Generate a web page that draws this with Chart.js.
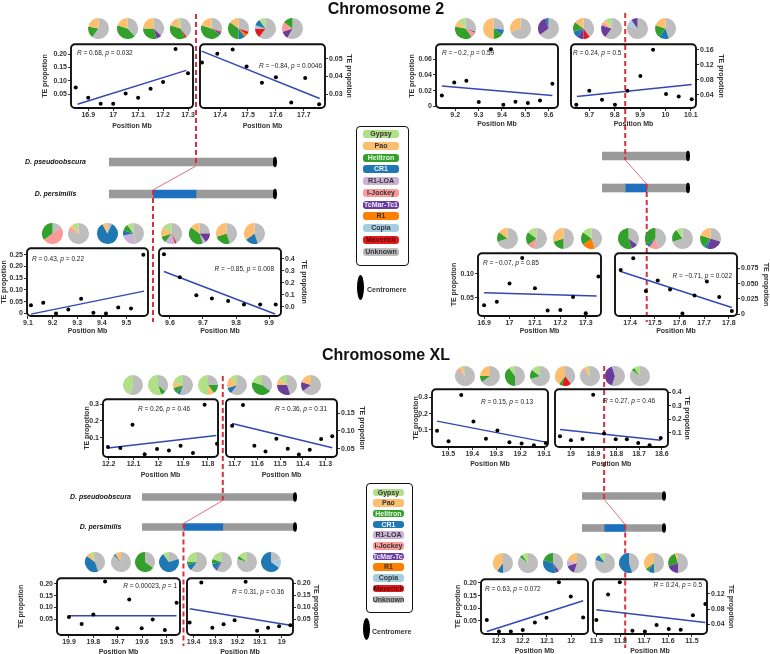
<!DOCTYPE html>
<html>
<head>
<meta charset="utf-8">
<script src="https://cdn.jsdelivr.net/npm/chart.js@4.4.1/dist/chart.umd.min.js"></script>
<style>
  body { margin: 0; width: 770px; height: 654px; position: relative; overflow: hidden; background: #fff;
         font-family: "Liberation Sans", Arial, sans-serif; }
  canvas { position: absolute; }
  .txt { position: absolute; white-space: nowrap; color: #111; }
  .title { font-size: 16px; font-weight: bold; transform: translate(-50%, -50%); z-index: 5; }
  .lgbox { position: absolute; border: 1.8px solid #111; border-radius: 4px; box-sizing: border-box; z-index: 5; }
  .pill { position: absolute; border-radius: 3px; font-size: 7px; font-weight: bold; text-align: center; z-index: 6;
          white-space: nowrap; overflow: visible; }
  .cen { position: absolute; background: #000; border-radius: 50%; z-index: 6; }
</style>
</head>
<body>
<script>
// ---- TE classes ----
const teTypes = ['Gypsy', 'Pao', 'Helitron', 'CR1', 'R1-LOA', 'I-Jockey', 'TcMar-Tc1', 'R1', 'Copia', 'Maverick', 'Unknown'];
const teColors = ['#b2df8a', '#fdbf6f', '#33a02c', '#1f78b4', '#cab2d6', '#fb9a99', '#6a3d9a', '#ff7f00', '#a6cee3', '#e31a1c', '#bdbdbd'];
const teText = ['#333', '#333', '#e8f5e0', '#eef4ff', '#333', '#333', '#f0e8ff', '#333', '#333', '#5a0a0a', '#333'];

// ---- Chromosome 2 ----
const c2a_pos = [16.85, 16.9, 16.95, 17.0, 17.05, 17.1, 17.15, 17.2, 17.25, 17.3];
const c2a_te = [0.075, 0.036, 0.014, 0.014, 0.052, 0.036, 0.070, 0.095, 0.219, 0.128];
const c2a_fitX = [16.857, 17.293], c2a_fitY = [0.012, 0.139];
const c2a_xt = ['16.9', '17', '17.1', '17.2', '17.3'], c2a_yt = ['0.05', '0.10', '0.15', '0.20'];
const c2a_stat = ['0.68', '0.032'];

const c2b_pos = [17.335, 17.39, 17.445, 17.495, 17.55, 17.6, 17.655, 17.705, 17.755];
const c2b_te = [0.0478, 0.0527, 0.0551, 0.0456, 0.0365, 0.0396, 0.0254, 0.0391, 0.0244];
const c2b_fitX = [17.334, 17.757], c2b_fitY = [0.0542, 0.0276];
const c2b_xt = ['17.4', '17.5', '17.6', '17.7'], c2b_yt = ['0.03', '0.04', '0.05'];
const c2b_stat = ['\u22120.84', '0.0046'];

const c2c_pos = [9.112, 9.162, 9.214, 9.264, 9.316, 9.366, 9.417, 9.467, 9.519, 9.569];
const c2c_te = [0.035, 0.046, 0.0, 0.017, 0.063, 0.003, 0.0, 0.025, 0.021, 0.250];
const c2c_fitX = [9.112, 9.572], c2c_fitY = [-0.003, 0.095];
const c2c_xt = ['9.1', '9.2', '9.3', '9.4', '9.5'], c2c_yt = ['0', '0.05', '0.10', '0.15', '0.20', '0.25'];
const c2c_stat = ['0.43', '0.22'];

const c2d_pos = [9.582, 9.63, 9.68, 9.727, 9.776, 9.824, 9.873, 9.92];
const c2d_te = [0.436, 0.245, 0.096, 0.069, 0.049, 0.020, 0.020, 0.020];
const c2d_fitX = [9.582, 9.918], c2d_fitY = [0.294, -0.060];
const c2d_xt = ['9.6', '9.7', '9.8', '9.9'], c2d_yt = ['0.0', '0.1', '0.2', '0.3', '0.4'];
const c2d_stat = ['\u22120.85', '0.008'];

const c2e_pos = [9.143, 9.196, 9.248, 9.301, 9.353, 9.406, 9.458, 9.511, 9.563, 9.616];
const c2e_te = [0.0138, 0.0302, 0.0324, 0.0055, 0.0726, 0.0021, 0.0059, 0.0042, 0.0075, 0.0286];
const c2e_fitX = [9.143, 9.616], c2e_fitY = [0.026, 0.0138];
const c2e_xt = ['9.2', '9.3', '9.4', '9.5', '9.6'], c2e_yt = ['0', '0.02', '0.04', '0.06'];
const c2e_stat = ['\u22120.2', '0.59'];

const c2f_pos = [9.649, 9.7, 9.75, 9.801, 9.85, 9.901, 9.951, 10.002, 10.052, 10.103];
const c2f_te = [0.0139, 0.0512, 0.027, 0.0139, 0.0512, 0.0904, 0.160, 0.0426, 0.0356, 0.0288];
const c2f_fitX = [9.651, 10.103], c2f_fitY = [0.0356, 0.068];
const c2f_xt = ['9.7', '9.8', '9.9', '10', '10.1'], c2f_yt = ['0.04', '0.08', '0.12', '0.16'];
const c2f_stat = ['0.24', '0.5'];

const c2g_pos = [16.9, 16.95, 17.0, 17.05, 17.1, 17.15, 17.2, 17.25, 17.3, 17.35];
const c2g_te = [0.035, 0.042, 0.080, 0.133, 0.070, 0.024, 0.025, 0.052, 0.018, 0.0945];
const c2g_fitX = [16.9, 17.343], c2g_fitY = [0.061, 0.054];
const c2g_xt = ['16.9', '17', '17.1', '17.2', '17.3'], c2g_yt = ['0.05', '0.10'];
const c2g_stat = ['\u22120.07', '0.85'];

const c2h_pos = [17.362, 17.413, 17.464, 17.512, 17.562, 17.612, 17.661, 17.711, 17.761, 17.812];
const c2h_te = [0.0724, 0.0919, 0.0378, 0.0551, 0.0405, 0.0011, 0.0308, 0.0535, 0.028, 0.0053];
const c2h_fitX = [17.362, 17.812], c2h_fitY = [0.070, 0.011];
const c2h_xt = ['17.4', '17.5', '17.6', '17.7', '17.8'], c2h_yt = ['0', '0.025', '0.050', '0.075'];
const c2h_stat = ['\u22120.71', '0.022'];

// ---- Chromosome XL ----
const xli_pos = [12.203, 12.153, 12.104, 12.055, 12.005, 11.957, 11.91, 11.86, 11.813, 11.763];
const xli_te = [0.045, 0.039, 0.177, 0.002, 0.033, 0.024, 0.053, 0.010, 0.296, 0.065];
const xli_fitX = [12.203, 11.766], xli_fitY = [0.039, 0.114];
const xli_xt = ['12.2', '12.1', '12', '11.9', '11.8'], xli_yt = ['0.1', '0.2', '0.3'];
const xli_stat = ['0.26', '0.46'];

const xlj_pos = [11.711, 11.663, 11.613, 11.564, 11.516, 11.466, 11.417, 11.369, 11.319, 11.27];
const xlj_te = [0.1147, 0.173, 0.058, 0.042, 0.078, 0.050, 0.034, 0.047, 0.077, 0.0848];
const xlj_fitX = [11.711, 11.27], xlj_fitY = [0.121, 0.0528];
const xlj_xt = ['11.7', '11.6', '11.5', '11.4', '11.3'], xlj_yt = ['0.05', '0.10', '0.15'];
const xlj_stat = ['0.36', '0.31'];

const xlk_pos = [19.547, 19.499, 19.446, 19.395, 19.343, 19.295, 19.245, 19.194, 19.143, 19.093];
const xlk_te = [0.095, 0.030, 0.315, 0.151, 0.046, 0.097, 0.024, 0.016, 0.005, 0.019];
const xlk_fitX = [19.547, 19.093], xlk_fitY = [0.154, 0.025];
const xlk_xt = ['19.5', '19.4', '19.3', '19.2', '19.1'], xlk_yt = ['0.1', '0.2', '0.3'];
const xlk_stat = ['0.15', '0.13'];

const xll_pos = [19.048, 19.0, 18.949, 18.902, 18.854, 18.803, 18.754, 18.704, 18.654, 18.605];
const xll_te = [0.073, 0.043, 0.053, 0.384, 0.093, 0.050, 0.050, 0.023, 0.006, 0.060];
const xll_fitX = [19.048, 18.605], xll_fitY = [0.124, 0.043];
const xll_xt = ['19', '18.9', '18.8', '18.7', '18.6'], xll_yt = ['0.1', '0.2', '0.3', '0.4'];
const xll_stat = ['0.27', '0.46'];

const xlm_pos = [19.9, 19.848, 19.8, 19.752, 19.702, 19.653, 19.602, 19.557, 19.507, 19.459];
const xlm_te = [0.060, 0.030, 0.071, 0.210, 0.012, 0.134, 0.012, 0.049, 0.005, 0.120];
const xlm_fitX = [19.9, 19.459], xlm_fitY = [0.065, 0.065];
const xlm_xt = ['19.9', '19.8', '19.7', '19.6', '19.5'], xlm_yt = ['0.05', '0.10', '0.15', '0.20'];
const xlm_stat = ['0.00023', '1'];

const xln_pos = [19.418, 19.365, 19.315, 19.264, 19.214, 19.164, 19.112, 19.062, 19.012, 18.961];
const xln_te = [0.036, 0.204, 0.014, 0.029, 0.046, 0.207, 0.002, 0.014, 0.021, 0.025];
const xln_fitX = [19.418, 18.961], xln_fitY = [0.094, 0.025];
const xln_xt = ['19.4', '19.3', '19.2', '19.1', '19'], xln_yt = ['0.05', '0.10', '0.15', '0.20'];
const xln_stat = ['0.31', '0.36'];

const xlo_pos = [12.348, 12.298, 12.249, 12.2, 12.15, 12.102, 12.051, 12.002, 11.951];
const xlo_te = [0.053, 0.008, 0.008, 0.014, 0.044, 0.062, 0.203, 0.146, 0.063];
const xlo_fitX = [12.348, 11.951], xlo_fitY = [0.008, 0.13];
const xlo_xt = ['12.3', '12.2', '12.1', '12'], xlo_yt = ['0.05', '0.10', '0.15', '0.20'];
const xlo_stat = ['0.63', '0.072'];

const xlp_pos = [11.9, 11.851, 11.802, 11.749, 11.697, 11.648, 11.597, 11.547, 11.496, 11.444];
const xlp_te = [0.051, 0.118, 0.150, 0.023, 0.021, 0.038, 0.028, 0.026, 0.064, 0.093];
const xlp_fitX = [11.9, 11.444], xlp_fitY = [0.078, 0.045];
const xlp_xt = ['11.9', '11.8', '11.7', '11.6', '11.5'], xlp_yt = ['0.04', '0.08', '0.12'];
const xlp_stat = ['0.24', '0.5'];

// ---- pie compositions (% per TE class, teTypes order) ----
const pies2TopL = [
  [0,22,18,0,0,0,0,0,0,0,60], [0,20,42,0,0,0,0,0,0,0,38], [0,25,30,0,0,0,8,0,0,0,37], [5,15,37,0,0,0,0,0,0,3,40],
  [0,20,45,0,0,0,3,0,0,2,30], [0,15,35,10,0,0,0,5,0,5,30], [10,0,0,10,0,0,0,0,5,15,60], [0,0,15,0,0,15,12,0,0,0,58]];
const pies2TopR = [
  [12,10,38,0,0,8,2,0,0,0,30], [0,50,15,8,0,0,0,0,0,0,27], [0,30,0,0,0,0,0,0,0,0,70], [0,0,0,5,0,0,30,0,0,0,65],
  [0,15,15,10,0,0,10,0,0,10,40], [10,5,0,0,0,5,20,0,0,0,60], [0,0,0,0,0,0,10,0,10,0,80], [0,20,20,15,0,0,0,0,0,0,45]];
const pies2BotL = [
  [0,0,35,0,0,50,0,0,0,0,15], [10,5,0,0,0,5,0,0,0,0,80], [0,8,0,85,0,0,0,0,0,0,7], [10,0,10,8,25,0,0,0,0,0,47],
  [15,15,10,0,15,0,0,0,0,3,42], [0,15,40,0,5,0,15,0,0,0,25], [0,30,25,0,0,0,0,0,0,0,45], [0,35,0,20,0,0,0,0,0,0,45]];
const pies2BotR = [
  [0,15,15,0,0,0,0,0,0,0,70], [15,0,20,0,0,12,0,0,0,0,53], [0,30,20,0,0,0,0,0,0,0,50], [15,0,20,0,0,0,0,20,0,0,45],
  [0,0,55,0,0,0,10,0,0,0,35], [0,0,35,5,0,15,0,0,0,0,45], [10,0,20,0,0,0,0,0,0,0,70], [0,20,20,5,0,0,25,0,0,0,30]];
const piesXLTopL = [
  [45,0,0,0,0,0,0,0,0,0,55], [55,0,8,0,0,0,0,0,0,0,37], [20,10,10,5,0,0,0,0,0,0,55], [50,10,15,0,0,0,0,0,0,0,25],
  [10,20,0,10,0,0,0,0,0,0,60], [20,0,45,0,0,0,0,0,0,0,35], [15,10,0,0,0,0,30,0,0,0,45], [0,20,0,0,0,0,15,0,0,0,65]];
const piesXLTopR = [
  [5,5,0,0,0,5,0,0,0,0,85], [0,25,10,0,0,0,0,0,0,0,65], [10,0,40,0,0,0,0,0,0,0,50], [15,0,15,0,0,0,0,0,0,0,70],
  [0,40,5,0,0,0,0,0,0,15,40], [5,5,0,0,0,5,0,0,0,0,85], [0,0,0,0,5,0,40,0,0,0,55], [10,0,5,0,0,0,0,0,0,0,85]];
const piesXLBotL = [
  [7,8,0,40,0,0,0,0,0,0,45], [0,10,0,3,0,0,0,0,0,0,87], [0,0,65,0,0,0,0,0,0,0,35], [10,0,0,70,0,0,0,0,0,0,20],
  [25,0,5,10,0,0,0,0,0,0,60], [20,0,8,10,0,0,3,0,0,0,59], [15,0,5,0,0,0,0,0,0,0,80], [0,0,0,65,0,0,0,0,15,0,20]];
const piesXLBotR = [
  [0,40,0,10,0,0,0,0,0,0,50], [10,0,5,0,0,0,0,0,0,0,85], [0,0,20,35,0,0,5,0,0,0,40], [0,20,0,0,10,0,15,0,0,0,55],
  [10,0,0,10,0,0,0,0,0,0,80], [0,0,0,55,0,0,0,0,0,0,45], [0,35,5,10,0,0,0,0,0,0,50], [0,5,25,0,0,0,20,0,0,0,50]];

// ---- chromosome schematics (% of arm length) ----
const chromoRows = ['D. pseudoobscura', 'D. persimilis'];
const chr2L_seg = [26.5, 25.9, 47.6], chr2L_brk = [52.4, 26.5];
const chr2R_seg = [27, 25, 48], chr2R_brk = [27, 52];
const xlL_seg = [27.1, 25.7, 47.2], xlL_brk = [52.8, 27.1];
const xlR_seg = [27, 25.7, 47.3], xlR_brk = [27, 52.7];

// ================= drawing =================
const FAM = "'Liberation Sans', Arial, sans-serif";
const tickFont = { family: FAM, size: 7, weight: 'bold' };
const rev = a => a.slice().reverse();

function mkCanvas(l, t, w, h, z) {
  const c = document.createElement('canvas');
  c.width = w; c.height = h;
  c.style.cssText = `left:${l}px;top:${t}px;width:${w}px;height:${h}px;z-index:${z}`;
  document.body.appendChild(c);
  return c;
}

function axisTicks(labels, min, max) {
  const keep = labels.filter(s => +s >= min - 1e-9 && +s <= max + 1e-9);
  return {
    afterBuildTicks: s => { s.ticks = keep.map(v => ({ value: +v })); },
    labels: keep
  };
}

function panel(P) {
  const [x0, y0, x1, y1] = P.box.map(Math.round);
  const left = P.side === 'left';
  const cl = Math.round(left ? P.edge : x0 - 4);
  const cr = Math.round(left ? x1 + 4 : P.edge);
  const ct = y0 - 4, cb = Math.round(P.foot);
  const W = cr - cl, H = cb - ct;
  const yw = left ? x0 - cl : cr - x1;
  const xh = cb - y1;
  const pad = left ? { left: 0, right: cr - x1, top: 4, bottom: 0 } : { left: x0 - cl, right: 0, top: 4, bottom: 0 };
  const xa = axisTicks(P.xt, P.xr[0], P.xr[1]);
  const ya = axisTicks(P.yt, P.yr[0], P.yr[1]);
  const grid = { display: true, drawOnChartArea: false, drawTicks: true, tickLength: 3, color: '#333', lineWidth: 1 };
  const axTitle = txt => ({ display: true, text: txt, font: tickFont, color: '#333', padding: 0 });

  const frame = {
    id: 'frame',
    afterDraw(chart) {
      const { ctx, chartArea: a } = chart;
      ctx.save();
      ctx.lineWidth = 1.9; ctx.strokeStyle = '#111';
      ctx.beginPath(); ctx.roundRect(a.left, a.top, a.right - a.left, a.bottom - a.top, 4); ctx.stroke();
      const parts = [['R', 'italic'], [' = ' + P.st[0] + ', ', 'normal'], ['p', 'italic'], [' = ' + P.st[1], 'normal']];
      const fnt = s => `${s} 6.5px ${FAM}`;
      let total = 0;
      parts.forEach(([t, s]) => { ctx.font = fnt(s); total += ctx.measureText(t).width; });
      let x = P.note[0] - cl - (P.note[2] === 'right' ? total : 0);
      const y = P.note[1] - ct;
      ctx.fillStyle = '#222'; ctx.textBaseline = 'middle'; ctx.textAlign = 'left';
      parts.forEach(([t, s]) => { ctx.font = fnt(s); ctx.fillText(t, x, y); x += ctx.measureText(t).width; });
      ctx.restore();
    }
  };

  new Chart(mkCanvas(cl, ct, W, H, 2), {
    type: 'scatter',
    data: {
      datasets: [
        { data: P.pos.map((v, i) => ({ x: v, y: P.te[i] })), pointRadius: 2, pointBackgroundColor: '#000',
          pointBorderWidth: 0, clip: 4 },
        { data: P.fx.map((v, i) => ({ x: v, y: P.fy[i] })), showLine: true, pointRadius: 0,
          borderColor: '#3347b5', borderWidth: 1.5 }
      ]
    },
    options: {
      responsive: false, animation: false, events: [],
      layout: { padding: pad },
      plugins: { legend: { display: false }, tooltip: { enabled: false } },
      scales: {
        x: {
          type: 'linear', min: P.xr[0], max: P.xr[1], reverse: !!P.rev,
          afterFit: s => { s.height = xh; }, afterBuildTicks: xa.afterBuildTicks,
          ticks: { callback: (v, i) => xa.labels[i], font: tickFont, color: '#333', padding: 0, maxRotation: 0, autoSkip: false },
          grid: grid, border: { display: false }, title: axTitle('Position Mb')
        },
        y: {
          type: 'linear', position: P.side, min: P.yr[0], max: P.yr[1],
          afterFit: s => { s.width = yw; }, afterBuildTicks: ya.afterBuildTicks,
          ticks: { callback: (v, i) => ya.labels[i], font: tickFont, color: '#333', padding: 1, autoSkip: false },
          grid: grid, border: { display: false }, title: axTitle('TE propotion')
        }
      }
    },
    plugins: [frame]
  });
}

function pies(row) {
  row.xs.forEach((cx, k) => {
    const s = row.d + 2;
    const cv = mkCanvas(Math.round(cx - s / 2), Math.round(row.y - s / 2), s, s, 3);
    new Chart(cv, {
      type: 'pie',
      data: { labels: rev(teTypes), datasets: [{ data: rev(row.vals[k]), backgroundColor: rev(teColors), borderWidth: 0 }] },
      options: { responsive: false, animation: false, events: [], layout: { padding: 1 },
                 plugins: { legend: { display: false }, tooltip: { enabled: false } } }
    });
  });
}

function chromosome(C, seg, brk) {
  const [cl, ct, cr, cb] = C.canvas;
  const g = C.rows[1] - C.rows[0];
  const top = C.rows[0] - g / 2;
  const pad = { top: top - ct, bottom: cb - (top + 2 * g), right: cr - C.bar[1], left: C.labels ? 0 : C.bar[0] - cl };
  const breaks = {
    id: 'breaks',
    afterDatasetsDraw(chart) {
      const { ctx } = chart, xs = chart.scales.x, ys = chart.scales.y;
      const xa = xs.getPixelForValue(brk[0]), xb = xs.getPixelForValue(brk[1]);
      const ya = ys.getPixelForValue(0), yb = ys.getPixelForValue(1), h = C.thick / 2;
      ctx.save();
      ctx.fillStyle = '#000';
      [ya, yb].forEach(y => { ctx.beginPath(); ctx.ellipse(xs.getPixelForValue(100), y, 2, h + 1.2, 0, 0, 2 * Math.PI); ctx.fill(); });
      ctx.strokeStyle = '#d8303c'; ctx.lineWidth = 2; ctx.setLineDash([5, 3]);
      ctx.beginPath(); ctx.moveTo(xa, C.dash[0] - ct); ctx.lineTo(xa, ya + h); ctx.stroke();
      ctx.beginPath(); ctx.moveTo(xb, yb - h); ctx.lineTo(xb, C.dash[1] - ct); ctx.stroke();
      ctx.setLineDash([]); ctx.lineWidth = 1; ctx.strokeStyle = '#e0707e';
      ctx.beginPath(); ctx.moveTo(xa, ya + h); ctx.lineTo(xb, yb - h); ctx.stroke();
      ctx.restore();
    }
  };
  new Chart(mkCanvas(cl, ct, cr - cl, cb - ct, 1), {
    type: 'bar',
    data: {
      labels: chromoRows,
      datasets: [
        { data: [100, seg[0]], backgroundColor: '#9a9a9a' },
        { data: [0, seg[1]], backgroundColor: '#1f6fbf' },
        { data: [0, seg[2]], backgroundColor: '#9a9a9a' }
      ]
    },
    options: {
      indexAxis: 'y', responsive: false, animation: false, events: [],
      layout: { padding: pad },
      datasets: { bar: { barThickness: C.thick, borderWidth: 0 } },
      plugins: { legend: { display: false }, tooltip: { enabled: false } },
      scales: {
        x: { display: false, min: 0, max: 100, stacked: true },
        y: {
          display: C.labels, stacked: true, afterFit: s => { s.width = C.bar[0] - cl; },
          grid: { display: false, drawTicks: false }, border: { display: false },
          ticks: { crossAlign: 'center', padding: C.gap, color: '#111',
                   font: { family: FAM, size: 7, weight: 'bold', style: 'italic' } }
        }
      }
    },
    plugins: [breaks]
  });
}

function legendBox(L) {
  const box = document.createElement('div');
  box.className = 'lgbox';
  box.style.cssText = `left:${L.box[0]}px;top:${L.box[1]}px;width:${L.box[2]}px;height:${L.box[3]}px`;
  document.body.appendChild(box);
  teTypes.forEach((t, i) => {
    const p = document.createElement('div');
    p.className = 'pill';
    const yc = L.y0 + L.step * i;
    p.style.cssText = `left:${L.px}px;top:${yc - L.ph / 2}px;width:${L.pw}px;height:${L.ph}px;line-height:${L.ph}px;` +
                      `background:${teColors[i]};color:${teText[i]}`;
    p.textContent = t;
    document.body.appendChild(p);
  });
  const e = document.createElement('div');
  e.className = 'cen';
  e.style.cssText = `left:${L.cen[0] - L.cen[2] / 2}px;top:${L.cen[1] - L.cen[3] / 2}px;width:${L.cen[2]}px;height:${L.cen[3]}px`;
  document.body.appendChild(e);
  const t = document.createElement('div');
  t.className = 'txt';
  t.style.cssText = `left:${L.lab[0]}px;top:${L.lab[1] - 5}px;font-size:7px;font-weight:bold;line-height:10px;color:#333;z-index:6`;
  t.textContent = 'Centromere';
  document.body.appendChild(t);
}

function title(text, x, y) {
  const d = document.createElement('div');
  d.className = 'txt title';
  d.style.left = x + 'px'; d.style.top = y + 'px';
  d.textContent = text;
  document.body.appendChild(d);
}

// ---- layout ----
title('Chromosome 2', 386, 9);
title('Chromosome XL', 386, 355);

chromosome({ canvas: [0, 10, 300, 325], bar: [109, 275], rows: [162, 194], labels: true, gap: 23, thick: 8, dash: [14, 322] }, chr2L_seg, chr2L_brk);
chromosome({ canvas: [440, 10, 770, 325], bar: [521, 688], rows: [156, 188], labels: false, gap: 0, thick: 8, dash: [13, 322] }, chr2R_seg, chr2R_brk);
chromosome({ canvas: [70, 360, 330, 654], bar: [142, 295], rows: [497, 527], labels: true, gap: 11, thick: 7, dash: [376, 646] }, xlL_seg, xlL_brk);
chromosome({ canvas: [440, 355, 770, 654], bar: [511, 664], rows: [496, 528], labels: false, gap: 0, thick: 7, dash: [366, 648] }, xlR_seg, xlR_brk);

const panels = [
  { box: [71, 43, 193, 108], side: 'left', edge: 41, foot: 130, xr: [16.831, 17.32], yr: [-0.002, 0.237], note: [77, 53, 'left'],
    pos: c2a_pos, te: c2a_te, fx: c2a_fitX, fy: c2a_fitY, xt: c2a_xt, yt: c2a_yt, st: c2a_stat },
  { box: [200, 43, 325, 108], side: 'right', edge: 353, foot: 130, xr: [17.328, 17.776], yr: [0.0223, 0.0581], note: [322, 66, 'right'],
    pos: c2b_pos, te: c2b_te, fx: c2b_fitX, fy: c2b_fitY, xt: c2b_xt, yt: c2b_yt, st: c2b_stat },
  { box: [27, 247, 148, 316], side: 'left', edge: 0, foot: 335, xr: [9.096, 9.588], yr: [-0.011, 0.278], note: [32, 259, 'left'],
    pos: c2c_pos, te: c2c_te, fx: c2c_fitX, fy: c2c_fitY, xt: c2c_xt, yt: c2c_yt, st: c2c_stat },
  { box: [159, 247, 281, 316], side: 'right', edge: 308, foot: 335, xr: [9.567, 9.936], yr: [-0.076, 0.487], note: [274, 269, 'right'],
    pos: c2d_pos, te: c2d_te, fx: c2d_fitX, fy: c2d_fitY, xt: c2d_xt, yt: c2d_yt, st: c2d_stat },
  { box: [436, 43, 558, 108], side: 'left', edge: 408, foot: 128, xr: [9.118, 9.64], yr: [-0.002, 0.0789], note: [442, 53, 'left'],
    pos: c2e_pos, te: c2e_te, fx: c2e_fitX, fy: c2e_fitY, xt: c2e_xt, yt: c2e_yt, st: c2e_stat },
  { box: [571, 43, 696, 108], side: 'right', edge: 725, foot: 128, xr: [9.628, 10.12], yr: [0.0053, 0.175], note: [573, 53, 'left'],
    pos: c2f_pos, te: c2f_te, fx: c2f_fitX, fy: c2f_fitY, xt: c2f_xt, yt: c2f_yt, st: c2f_stat },
  { box: [478, 252, 601, 316], side: 'left', edge: 450, foot: 335, xr: [16.876, 17.36], yr: [0.0125, 0.143], note: [483, 263, 'left'],
    pos: c2g_pos, te: c2g_te, fx: c2g_fitX, fy: c2g_fitY, xt: c2g_xt, yt: c2g_yt, st: c2g_stat },
  { box: [615, 252, 737, 316], side: 'right', edge: 770, foot: 335, xr: [17.339, 17.833], yr: [-0.003, 0.1], note: [732, 276, 'right'],
    pos: c2h_pos, te: c2h_te, fx: c2h_fitX, fy: c2h_fitY, xt: c2h_xt, yt: c2h_yt, st: c2h_stat },

  { box: [103, 398, 218, 457], side: 'left', edge: 83, foot: 479, xr: [11.759, 12.223], yr: [-0.014, 0.329], rev: true, note: [138, 409, 'left'],
    pos: xli_pos, te: xli_te, fx: xli_fitX, fy: xli_fitY, xt: xli_xt, yt: xli_yt, st: xli_stat },
  { box: [226, 398, 337, 457], side: 'right', edge: 366, foot: 479, xr: [11.249, 11.738], yr: [0.0267, 0.189], rev: true, note: [327, 409, 'right'],
    pos: xlj_pos, te: xlj_te, fx: xlj_fitX, fy: xlj_fitY, xt: xlj_xt, yt: xlj_yt, st: xlj_stat },
  { box: [432, 388, 548, 447], side: 'left', edge: 412, foot: 468, xr: [19.084, 19.568], yr: [-0.005, 0.35], rev: true, note: [481, 402, 'left'],
    pos: xlk_pos, te: xlk_te, fx: xlk_fitX, fy: xlk_fitY, xt: xlk_xt, yt: xlk_yt, st: xlk_stat },
  { box: [555, 388, 668, 447], side: 'right', edge: 691, foot: 468, xr: [18.573, 19.07], yr: [-0.007, 0.425], rev: true, note: [655, 401, 'right'],
    pos: xll_pos, te: xll_te, fx: xll_fitX, fy: xll_fitY, xt: xll_xt, yt: xll_yt, st: xll_stat },
  { box: [57, 577, 180, 635], side: 'left', edge: 17, foot: 656, xr: [19.445, 19.949], yr: [-0.016, 0.224], rev: true, note: [177, 586, 'right'],
    pos: xlm_pos, te: xlm_te, fx: xlm_fitX, fy: xlm_fitY, xt: xlm_xt, yt: xlm_yt, st: xlm_stat },
  { box: [187, 577, 293, 635], side: 'right', edge: 320, foot: 656, xr: [18.949, 19.43], yr: [-0.016, 0.222], rev: true, note: [284, 592, 'right'],
    pos: xln_pos, te: xln_te, fx: xln_fitX, fy: xln_fitY, xt: xln_xt, yt: xln_yt, st: xln_stat },
  { box: [481, 578, 588, 634], side: 'left', edge: 454, foot: 655, xr: [11.931, 12.372], yr: [-0.002, 0.215], rev: true, note: [485, 589, 'left'],
    pos: xlo_pos, te: xlo_te, fx: xlo_fitX, fy: xlo_fitY, xt: xlo_xt, yt: xlo_yt, st: xlo_stat },
  { box: [593, 578, 707, 634], side: 'right', edge: 735, foot: 655, xr: [11.437, 11.914], yr: [0.0147, 0.158], rev: true, note: [702, 585, 'right'],
    pos: xlp_pos, te: xlp_te, fx: xlp_fitX, fy: xlp_fitY, xt: xlp_xt, yt: xlp_yt, st: xlp_stat }
];
panels.forEach(panel);

[
  { y: 28, d: 21, xs: [98, 127, 153, 180, 211, 238, 265, 292], vals: pies2TopL },
  { y: 28, d: 21, xs: [465, 493, 520, 548, 583, 611, 637, 665], vals: pies2TopR },
  { y: 233, d: 21, xs: [52, 78, 107, 133, 171, 199, 226, 254], vals: pies2BotL },
  { y: 238, d: 21, xs: [507, 536, 563, 591, 628, 655, 682, 710], vals: pies2BotR },
  { y: 385, d: 20, xs: [133, 158, 183, 208, 237, 262, 287, 311], vals: piesXLTopL },
  { y: 376, d: 20, xs: [465, 490, 515, 540, 565, 590, 615, 640], vals: piesXLTopR },
  { y: 562, d: 20, xs: [95, 121, 145, 169, 197, 222, 247, 271], vals: piesXLBotL },
  { y: 563, d: 20, xs: [503, 528, 553, 577, 605, 629, 654, 678], vals: piesXLBotR }
].forEach(pies);

legendBox({ box: [356, 126, 53, 140], y0: 134, step: 11.77, px: 363, pw: 36, ph: 8, cen: [360, 287, 7, 25], lab: [367, 290] });
legendBox({ box: [366, 483, 47, 130], y0: 492.3, step: 10.7, px: 372.7, pw: 31.5, ph: 7.5, cen: [366, 629, 7, 22], lab: [372, 631.7] });
</script>
</body>
</html>
